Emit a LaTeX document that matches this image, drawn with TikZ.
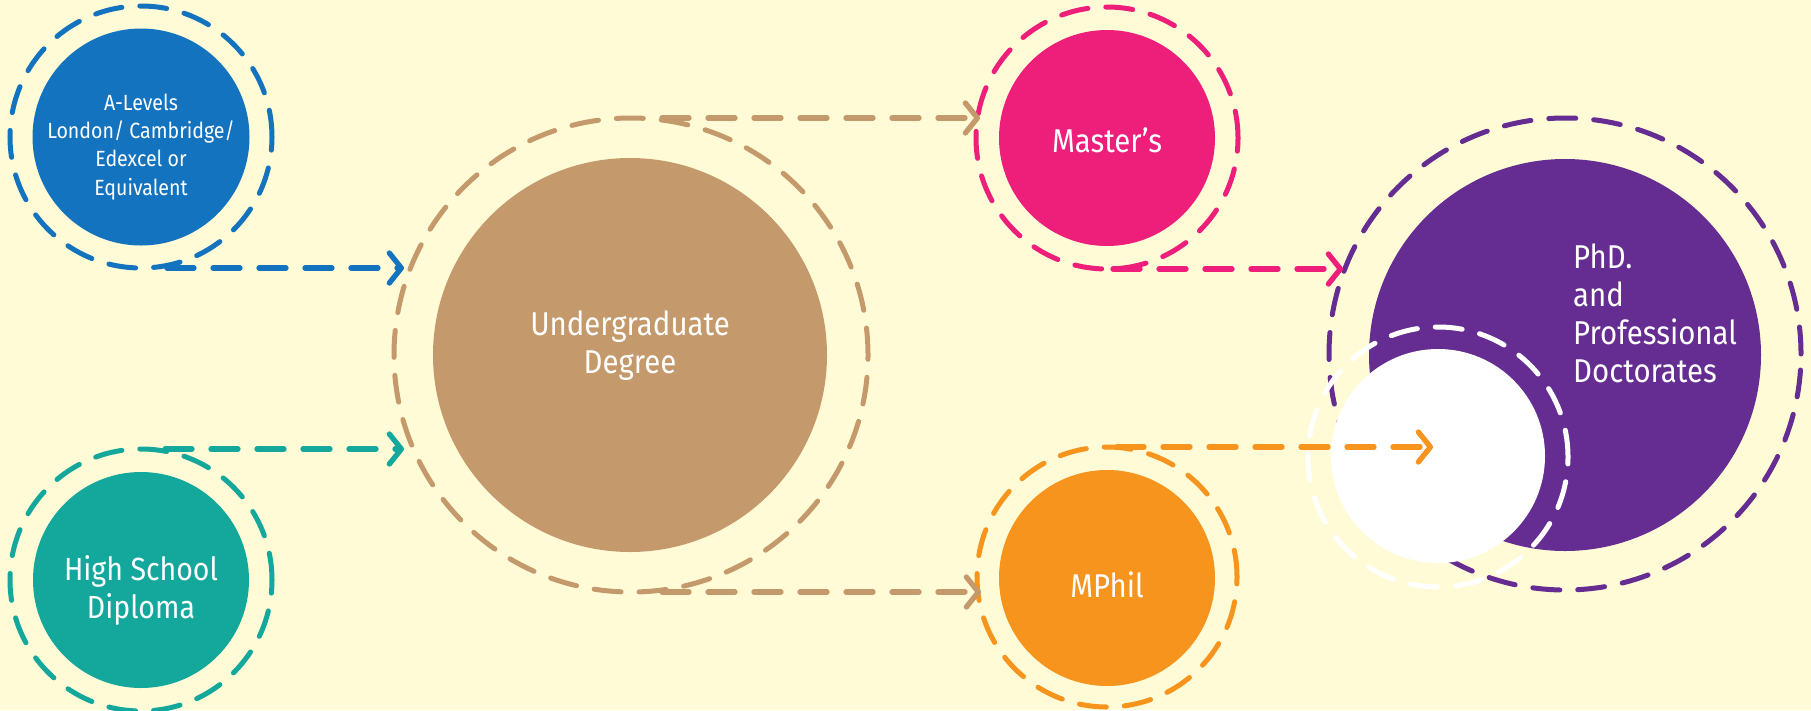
\documentclass[tikz,border=0pt]{standalone}
\usepackage{fontspec}
\setmainfont[FakeStretch=0.89]{Fira Sans}
\usetikzlibrary{arrows.meta}
\definecolor{bgc}{HTML}{FFFBD6}
\definecolor{cblue}{HTML}{1473BE}
\definecolor{cteal}{HTML}{14A89D}
\definecolor{ctan}{HTML}{C49A6C}
\definecolor{cpink}{HTML}{ED1F7A}
\definecolor{corange}{HTML}{F7941D}
\definecolor{cpurple}{HTML}{652D91}
\begin{document}
\begin{tikzpicture}[x=1pt,y=-1pt,
 ring/.style={circle, draw=#1, line width=5pt, dash pattern=on 27pt off 18pt, line cap=round, inner sep=0pt, outer sep=0pt},
 disc/.style={circle, fill=#1, inner sep=0pt, outer sep=0pt},
 arr/.style={draw=#1, line width=5.3pt, dash pattern=on 27pt off 19pt, line cap=round, -{Straight Barb[length=12pt,width=30pt,round]}},
 lbl/.style={text=white, align=center, anchor=base, inner sep=0pt, font=\fontsize{33}{38}\selectfont},
]
\fill[bgc] (0,0) rectangle (1811,710);
\useasboundingbox (0,0) rectangle (1811,710);

% A-Levels
\node[ring=cblue, minimum size=262pt] (alr) at (141,137) {};
\node[disc=cblue, minimum size=217pt] (al) at (141,137) {};
\node[lbl, font=\fontsize{22}{28.3}\selectfont] (alt) at (141,195) {A-Levels\\London/ Cambridge/\\Edexcel or\\Equivalent};

% High School
\node[ring=cteal, minimum size=262pt] (hsr) at (141,580) {};
\node[disc=cteal, minimum size=216pt] (hs) at (141,580) {};
\node[lbl, font=\fontsize{32}{38}\selectfont] (hst) at (141,618) {High School\\Diploma};

% Undergraduate
\node[ring=ctan, minimum size=474pt] (ugr) at (631,355) {};
\node[disc=ctan, minimum size=394pt] (ug) at (630,355) {};
\node[lbl] (ugt) at (630,373) {Undergraduate\\Degree};

% Master's
\node[ring=cpink, minimum size=262pt] (msr) at (1107,138) {};
\node[disc=cpink, minimum size=216pt] (ms) at (1107,138) {};
\node[lbl] (mst) at (1107,152) {Master’s};

% MPhil
\node[ring=corange, minimum size=260pt] (mpr) at (1107,577) {};
\node[disc=corange, minimum size=216pt] (mp) at (1107,578) {};
\node[lbl] (mpt) at (1107,597) {MPhil};

% PhD
\node[ring=cpurple, minimum size=472pt] (phr) at (1565,354) {};
\node[disc=cpurple, minimum size=392pt] (ph) at (1565,355) {};
\node[lbl, align=left, anchor=base west] (pht) at (1573,382) {PhD.\\and\\Professional\\Doctorates};
\node[disc=white, minimum size=214pt] (wd) at (1438,456) {};
\node[ring=white, minimum size=260pt] (wr) at (1438,457) {};

% connectors
\draw[arr=cblue] ([xshift=26pt]alr.south) -- ([xshift=10pt]alr.south -| ugr.west);
\draw[arr=cteal] ([xshift=24pt]hsr.north) -- ([xshift=10pt]hsr.north -| ugr.west);
\draw[arr=ctan] ([xshift=31pt]ugr.north) -- ([xshift=4pt]ugr.north -| msr.west);
\draw[arr=ctan] ([xshift=31pt]ugr.south) -- ([xshift=4pt]ugr.south -| mpr.west);
\draw[arr=cpink] ([xshift=6pt]msr.south) -- ([xshift=14pt]msr.south -| phr.west);
\draw[arr=corange] ([xshift=10pt]mpr.north) -- ([xshift=-5pt]mpr.north -| wd.center);
\end{tikzpicture}
\end{document}
